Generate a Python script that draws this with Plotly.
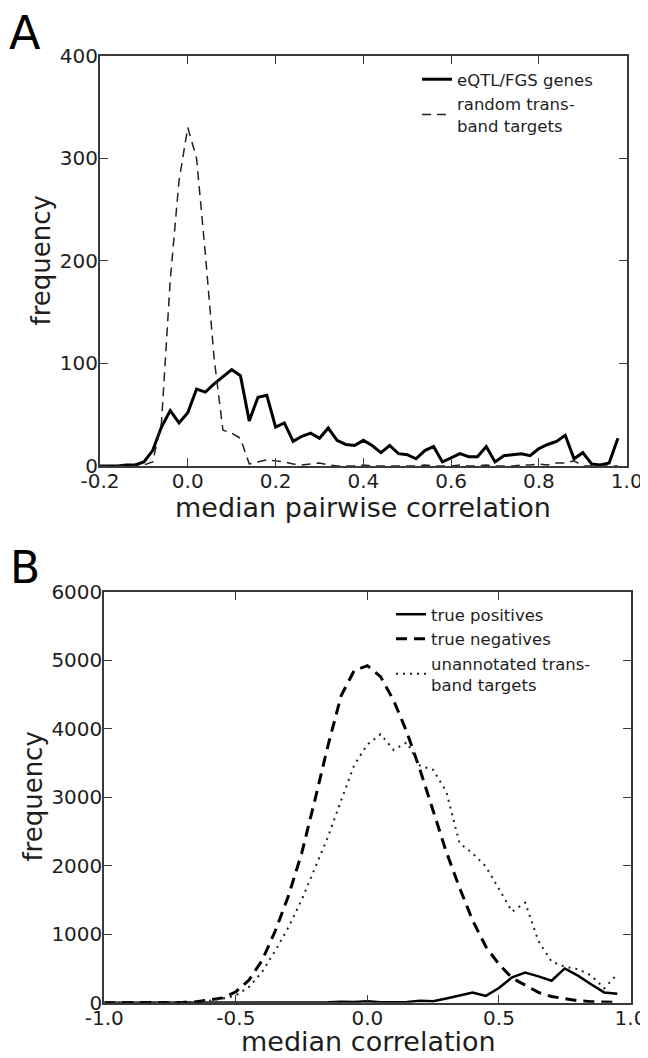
import plotly.graph_objects as go

# ---------------- Panel A data ----------------
a_x = [-0.20, -0.18, -0.16, -0.14, -0.12, -0.10, -0.08, -0.06, -0.04, -0.02,
       0.00, 0.02, 0.04, 0.06, 0.08, 0.10, 0.12, 0.14, 0.16, 0.18,
       0.20, 0.22, 0.24, 0.26, 0.28, 0.30, 0.32, 0.34, 0.36, 0.38,
       0.40, 0.42, 0.44, 0.46, 0.48, 0.50, 0.52, 0.54, 0.56, 0.58,
       0.60, 0.62, 0.64, 0.66, 0.68, 0.70, 0.72, 0.74, 0.76, 0.78,
       0.80, 0.82, 0.84, 0.86, 0.88, 0.90, 0.92, 0.94, 0.96, 0.98]
a_eqtl = [0, 0, 0, 1, 1, 4, 15, 38, 54, 42,
          52, 75, 72, 80, 87, 94, 88, 44, 67, 69,
          38, 42, 24, 29, 32, 27, 37, 25, 21, 20,
          25, 20, 13, 20, 12, 11, 7, 15, 19, 4,
          8, 12, 9, 9, 19, 4, 10, 11, 12, 10,
          17, 21, 24, 30, 7, 13, 2, 1, 3, 27]
a_random = [0, 0, 0, 0, 0, 1, 4, 42, 181, 278,
            330, 300, 207, 105, 35, 32, 27, 2, 4, 6,
            5, 4, 2, 1, 2, 3, 1, 0, 0, 0,
            1, 0, 0, 0, 0, 0, 0, 1, 0, 0,
            0, 1, 0, 0, 1, 0, 0, 0, 1, 1,
            2, 1, 3, 3, 5, 0, 0, 0, 0, 0]
a_xticks = [-0.2, 0.0, 0.2, 0.4, 0.6, 0.8, 1.0]
a_xticktext = ["-0.2", "0.0", "0.2", "0.4", "0.6", "0.8", "1.0"]
a_yticks = [0, 100, 200, 300, 400]
a_yticktext = ["0", "100", "200", "300", "400"]

# ---------------- Panel B data ----------------
b_x = [-1.00, -0.95, -0.90, -0.85, -0.80, -0.75, -0.70, -0.65, -0.60, -0.55,
       -0.50, -0.45, -0.40, -0.35, -0.30, -0.25, -0.20, -0.15, -0.10, -0.05,
       0.00, 0.05, 0.10, 0.15, 0.20, 0.25, 0.30, 0.35, 0.40, 0.45,
       0.50, 0.55, 0.60, 0.65, 0.70, 0.75, 0.80, 0.85, 0.90, 0.95]
b_true_pos = [0, 0, 0, 0, 0, 0, 0, 0, 0, 0,
              0, 0, 0, 0, 0, 0, 0, 5, 15, 10,
              20, 5, 5, 10, 30, 20, 60, 110, 150, 100,
              215, 370, 440, 385, 320, 500, 395, 270, 150, 130]
b_true_neg = [0, 0, 0, 0, 0, 0, 5, 15, 40, 70,
              160, 330, 620, 1050, 1560, 2180, 2950, 3750, 4480, 4850,
              4920, 4760, 4410, 3950, 3400, 2800, 2200, 1680, 1200, 820,
              560, 360, 250, 150, 90, 55, 30, 15, 8, 3]
b_unannot = [0, 0, 0, 0, 0, 0, 5, 15, 30, 60,
             105, 230, 450, 760, 1100, 1500, 1950, 2420, 2950, 3470,
             3770, 3920, 3690, 3800, 3460, 3400, 3080, 2330, 2180, 1990,
             1660, 1330, 1460, 900, 600, 525, 490, 400, 210, 415]
b_xticks = [-1.0, -0.5, 0.0, 0.5, 1.0]
b_xticktext = ["-1.0", "-0.5", "0.0", "0.5", "1.0"]
b_yticks = [0, 1000, 2000, 3000, 4000, 5000, 6000]
b_yticktext = ["0", "1000", "2000", "3000", "4000", "5000", "6000"]

# the page body adds an 8px margin; the figure fills the rest of the window
OFF = 8
W, H = 648 - OFF, 1058 - OFF
FONT = "DejaVu Sans"
AXC = "#3a3a3a"
TXT = "#1e1e1e"

fig = go.Figure()

fig.add_trace(go.Scatter(x=a_x, y=a_eqtl, mode="lines", name="eQTL/FGS genes",
                         line=dict(color="black", width=3), xaxis="x", yaxis="y",
                         legend="legend"))
fig.add_trace(go.Scatter(x=a_x, y=a_random, mode="lines", name="random trans-<br>band targets",
                         line=dict(color="#222222", width=1.5, dash="9px,6px"), xaxis="x", yaxis="y",
                         legend="legend"))

fig.add_trace(go.Scatter(x=b_x, y=b_true_pos, mode="lines", name="true positives",
                         line=dict(color="black", width=2.5), xaxis="x2", yaxis="y2",
                         legend="legend2"))
fig.add_trace(go.Scatter(x=b_x, y=b_true_neg, mode="lines", name="true negatives",
                         line=dict(color="black", width=3, dash="11px,7px"), xaxis="x2", yaxis="y2",
                         legend="legend2"))
fig.add_trace(go.Scatter(x=b_x, y=b_unannot, mode="lines", name="unannotated trans-<br>band targets",
                         line=dict(color="#222222", width=2, dash="2px,5px"), xaxis="x2", yaxis="y2",
                         legend="legend2"))


def px_x(p):
    return (p - OFF) / W


def px_y(p):
    return 1 - (p - OFF) / H


axis_common = dict(showline=True, linecolor=AXC, linewidth=2, mirror="allticks",
                   ticks="inside", ticklen=8, tickwidth=1.2, tickcolor=AXC,
                   showgrid=False, zeroline=False, automargin=False,
                   tickfont=dict(family=FONT, size=20, color=TXT))
xaxis_extra = dict(ticklabelstandoff=-4)
yaxis_extra = dict(ticklabelstandoff=-4)

layout = dict(
    template="none",
    width=W, height=H,
    margin=dict(l=0, r=0, t=0, b=0, autoexpand=False),
    paper_bgcolor="white", plot_bgcolor="white",
    font=dict(family=FONT, color=TXT),
    xaxis=dict(domain=[px_x(100), px_x(626.7)], range=[-0.2, 1.0], anchor="y",
               tickvals=a_xticks, ticktext=a_xticktext, **axis_common, **xaxis_extra),
    yaxis=dict(domain=[px_y(466), px_y(55.7)], range=[0, 400], anchor="x",
               tickvals=a_yticks, ticktext=a_yticktext, **axis_common, **yaxis_extra),
    xaxis2=dict(domain=[px_x(104.3), px_x(630.5)], range=[-1.0, 1.0], anchor="y2",
                tickvals=b_xticks, ticktext=b_xticktext, **axis_common, **xaxis_extra),
    yaxis2=dict(domain=[px_y(1002.7), px_y(591.7)], range=[0, 6000], anchor="x2",
                tickvals=b_yticks, ticktext=b_yticktext, **axis_common, **yaxis_extra),
    legend=dict(x=px_x(417), y=px_y(62), xanchor="left", yanchor="top",
                bgcolor="rgba(0,0,0,0)", borderwidth=0, tracegroupgap=0,
                font=dict(family=FONT, size=16.5, color=TXT), itemwidth=30),
    legend2=dict(x=px_x(391), y=px_y(597), xanchor="left", yanchor="top",
                 bgcolor="rgba(0,0,0,0)", borderwidth=0, tracegroupgap=0,
                 font=dict(family=FONT, size=16.5, color=TXT), itemwidth=30),
    showlegend=True,
    annotations=[
        dict(text="A", x=px_x(7), y=px_y(33), xref="paper", yref="paper",
             xanchor="left", yanchor="middle", showarrow=False,
             font=dict(family=FONT, size=46, color="black")),
        dict(text="B", x=px_x(8), y=px_y(567.5), xref="paper", yref="paper",
             xanchor="left", yanchor="middle", showarrow=False,
             font=dict(family=FONT, size=44, color="black")),
        dict(text="frequency", x=px_x(40.5), y=px_y(261), xref="paper", yref="paper",
             xanchor="center", yanchor="middle", showarrow=False, textangle=-90,
             font=dict(family=FONT, size=26, color=TXT)),
        dict(text="frequency", x=px_x(32.6), y=px_y(797), xref="paper", yref="paper",
             xanchor="center", yanchor="middle", showarrow=False, textangle=-90,
             font=dict(family=FONT, size=26, color=TXT)),
        dict(text="median pairwise correlation", x=px_x(363.3), y=px_y(507.5), xref="paper", yref="paper",
             xanchor="center", yanchor="middle", showarrow=False,
             font=dict(family=FONT, size=27, color=TXT)),
        dict(text="median correlation", x=px_x(368), y=px_y(1041), xref="paper", yref="paper",
             xanchor="center", yanchor="middle", showarrow=False,
             font=dict(family=FONT, size=27, color=TXT)),
    ],
)
fig.update_layout(**layout)

fig.write_html("out.html")
